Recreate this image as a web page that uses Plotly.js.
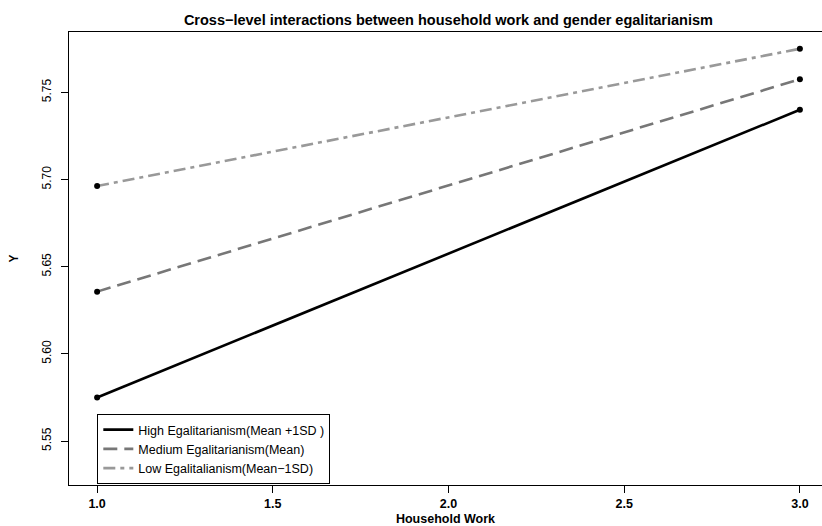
<!DOCTYPE html>
<html>
<head>
<meta charset="utf-8">
<script src="https://cdn.plot.ly/plotly-3.0.1.min.js"></script>
<style>html,body{margin:0;padding:0;background:#fff;}#chart{width:822px;height:526px;}</style>
</head>
<body>
<div id="chart"></div>
<script>
// Data
const householdWork = [1, 3];
const highEgal = [5.575, 5.740];
const mediumEgal = [5.6357, 5.7575];
const lowEgal = [5.6963, 5.775];
const seriesNames = [
  "High Egalitarianism(Mean +1SD )",
  "Medium Egalitarianism(Mean)",
  "Low Egalitalianism(Mean\u22121SD)"
];
const xTickVals = [1.0, 1.5, 2.0, 2.5, 3.0];
const xTickText = ["1.0", "1.5", "2.0", "2.5", "3.0"];
const yTickVals = [5.55, 5.60, 5.65, 5.70, 5.75];
const yTickText = ["5.55", "5.60", "5.65", "5.70", "5.75"];

const FONT = "Liberation Sans, Arial, Helvetica, sans-serif";

function lineTrace(y, name, color, dash, width) {
  return {x: householdWork, y: y, name: name, type: 'scatter', mode: 'lines',
          line: {color: color, dash: dash, width: width}};
}
function dotTrace(y) {
  return {x: householdWork, y: y, type: 'scatter', mode: 'markers', showlegend: false,
          marker: {color: '#000', size: 6}, hoverinfo: 'skip'};
}

const data = [
  lineTrace(highEgal, seriesNames[0], '#000000', 'solid', 2.6),
  lineTrace(mediumEgal, seriesNames[1], '#777777', '14px,7px', 2.6),
  lineTrace(lowEgal, seriesNames[2], '#999999', '12px,5px,4px,5px', 2.6),
  dotTrace(highEgal), dotTrace(mediumEgal), dotTrace(lowEgal)
];

const layout = {
  width: 822, height: 526,
  margin: {l: 69, r: 0, t: 32, b: 41, pad: 0},
  paper_bgcolor: '#fff', plot_bgcolor: '#fff',
  font: {family: FONT, color: '#000', size: 11},
  title: {text: '<b>Cross\u2212level interactions between household work and gender egalitarianism</b>',
          font: {family: FONT, size: 14.5, color: '#000'}, x: 0.5455, xanchor: 'center', y: 0.962, yanchor: 'middle'},
  showlegend: true,
  legend: {x: 0.0376, y: 0.1567, xanchor: 'left', yanchor: 'top',
           bgcolor: '#fff', bordercolor: '#000', borderwidth: 1,
           font: {family: FONT, size: 12.5, color: '#000'}, tracegroupgap: 0},
  xaxis: {range: [0.92, 3.0629], tickvals: xTickVals, ticktext: xTickText,
          showgrid: false, zeroline: false, showline: true, linecolor: '#000', linewidth: 1,
          mirror: true, ticks: 'outside', ticklen: 7, tickcolor: '#000', tickwidth: 1,
          tickfont: {family: FONT, size: 12.5, color: '#000', weight: 'bold'},
          title: {text: '<b>Household Work</b>', font: {family: FONT, size: 12.5}, standoff: 4}},
  yaxis: {range: [5.5248, 5.7846], tickvals: yTickVals, ticktext: yTickText,
          showgrid: false, zeroline: false, showline: true, linecolor: '#000', linewidth: 1,
          mirror: false, ticks: 'outside', ticklen: 7, tickcolor: '#000', tickwidth: 1, tickangle: -90,
          ticklabelstandoff: 5,
          tickfont: {family: FONT, size: 12, color: '#000'},
          title: {text: '<b>Y</b>', font: {family: FONT, size: 12}, standoff: 19}}
};

Plotly.newPlot('chart', data, layout, {displayModeBar: false, staticPlot: true});
</script>
</body>
</html>
